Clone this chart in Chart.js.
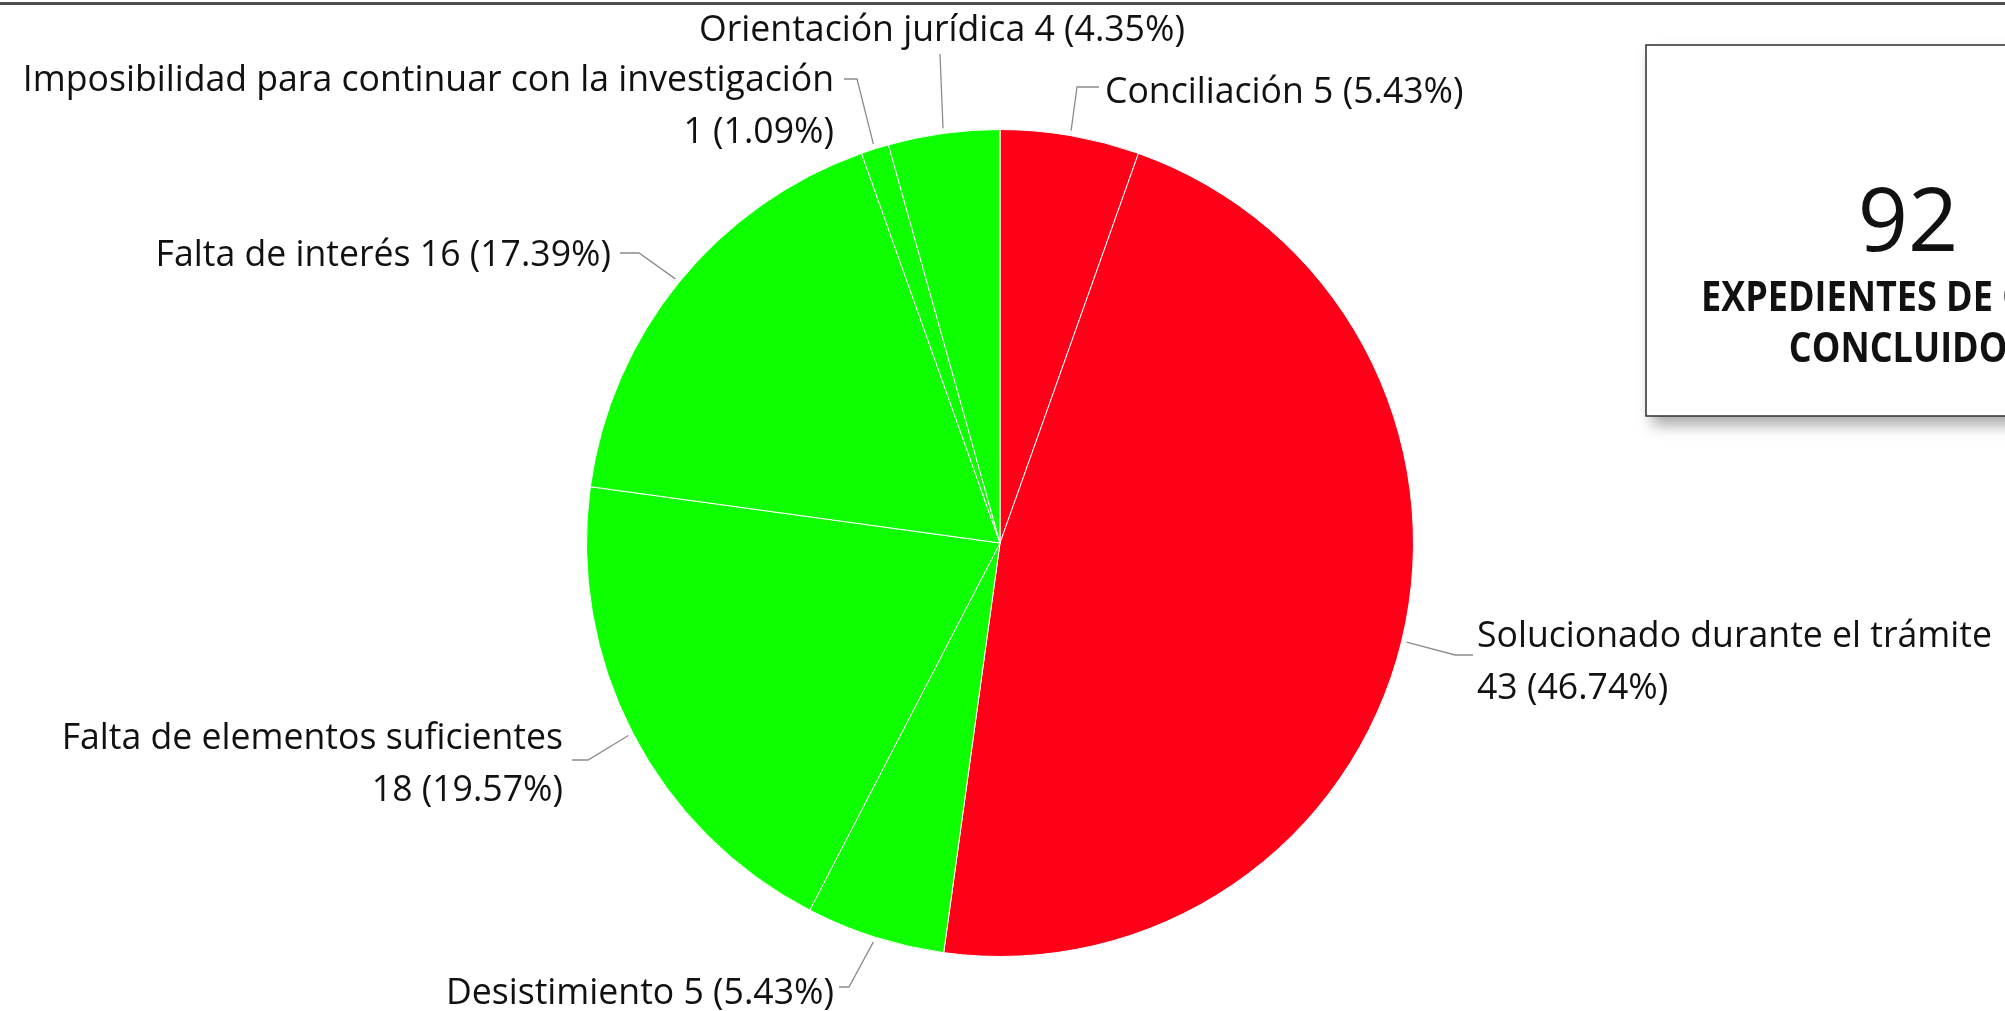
<!DOCTYPE html>
<html>
<head>
<meta charset="utf-8">
<script src="https://cdn.jsdelivr.net/npm/chart.js@4.4.0/dist/chart.umd.min.js"></script>
<style>
  html, body { margin: 0; padding: 0; background: #fff; overflow: hidden; }
  #wrap { position: relative; width: 2005px; height: 1011px; }
</style>
</head>
<body>
<div id="wrap"><canvas id="myChart" width="2005" height="1011"></canvas></div>
<script>
const categories = [
  'Conciliación',
  'Solucionado durante el trámite',
  'Desistimiento',
  'Falta de elementos suficientes',
  'Falta de interés',
  'Imposibilidad para continuar con la investigación',
  'Orientación jurídica'
];
const values = [5, 43, 5, 18, 16, 1, 4];
const RED = 'rgb(255, 0, 24)';
const GREEN = 'rgb(14, 255, 0)';
const colors = [RED, RED, GREEN, GREEN, GREEN, GREEN, GREEN];
const boxTitle = ['EXPEDIENTES DE QUEJA', 'CONCLUIDOS'];

const total = values.reduce((a, b) => a + b, 0);

// where each label sits: leader elbow, leader end, text anchor, alignment, wrapped or not
const labelLayout = [
  { elbow: [1077, 87],  end: [1099, 87],  tx: 1105, ty: 90,  align: 'left',   wrap: false },
  { elbow: [1455, 655], end: [1473, 655], tx: 1477, ty: 660, align: 'left',   wrap: true },
  { elbow: [849, 987],  end: [839, 987],  tx: 834,  ty: 991, align: 'right',  wrap: false },
  { elbow: [588, 760],  end: [572, 760],  tx: 563,  ty: 762, align: 'right',  wrap: true },
  { elbow: [639, 253],  end: [620, 253],  tx: 611,  ty: 253, align: 'right',  wrap: false },
  { elbow: [857, 79],   end: [844, 79],   tx: 834,  ty: 104, align: 'right',  wrap: true },
  { elbow: [940, 54],   end: [940, 54],   tx: 942,  ty: 28,  align: 'center', wrap: false }
];

const FONT = '"Open Sans", "DejaVu Sans", sans-serif';

function fitSize(ctx, text, weight, targetWidth) {
  ctx.font = weight + ' 100px ' + FONT;
  return 100 * targetWidth / ctx.measureText(text).width;
}

const decorPlugin = {
  id: 'decor',
  beforeDraw(chart) {
    const c = chart.ctx;
    c.save();
    // top rule
    c.fillStyle = '#4d4d4d';
    c.fillRect(0, 2, 2005, 3);
    c.restore();
  },
  afterDraw(chart) {
    const c = chart.ctx;
    const arcs = chart.getDatasetMeta(0).data;
    const fs = fitSize(c, 'Solucionado durante el trámite', 'normal', 515);
    const lineH = fs * 1.47;

    // labels with leader lines
    arcs.forEach((arc, i) => {
      const L = labelLayout[i];
      const mid = (arc.startAngle + arc.endAngle) / 2;
      const r = arc.outerRadius + 5;
      const sx = arc.x + Math.cos(mid) * r;
      const sy = arc.y + Math.sin(mid) * r;
      c.save();
      c.strokeStyle = '#8c8c8c';
      c.lineWidth = 1.3;
      c.beginPath();
      c.moveTo(sx, sy);
      c.lineTo(L.elbow[0], L.elbow[1]);
      c.lineTo(L.end[0], L.end[1]);
      c.stroke();

      const pct = (values[i] / total * 100).toFixed(2) + '%';
      const num = values[i] + ' (' + pct + ')';
      const lines = L.wrap ? [categories[i], num] : [categories[i] + ' ' + num];
      c.fillStyle = '#111';
      c.font = 'normal ' + fs + 'px ' + FONT;
      c.textAlign = L.align;
      c.textBaseline = 'alphabetic';
      const y0 = L.ty - (lines.length - 1) * lineH / 2;
      lines.forEach((t, k) => {
        c.fillText(t, L.tx, y0 + k * lineH + fs * 0.36);
      });
      c.restore();
    });

    // total box
    c.save();
    c.shadowColor = 'rgba(0,0,0,0.35)';
    c.shadowBlur = 14;
    c.shadowOffsetX = 6;
    c.shadowOffsetY = 9;
    c.fillStyle = '#fff';
    c.fillRect(1646, 45, 420, 371);
    c.restore();
    c.save();
    c.strokeStyle = '#3a3a3a';
    c.lineWidth = 1.6;
    c.strokeRect(1646, 45, 420, 371);

    c.fillStyle = '#111';
    c.textAlign = 'center';
    c.textBaseline = 'alphabetic';
    c.font = 'normal 88px ' + FONT;
    c.fillText(String(total), 1908, 251);
    // condensed bold title, like the narrow original face
    const bs = 41;
    c.font = 'bold ' + bs + 'px ' + FONT;
    const sx = 414 / c.measureText(boxTitle[0]).width;
    c.translate(1908, 0);
    c.scale(sx, 1);
    c.fillText(boxTitle[0], 0, 311);
    c.fillText(boxTitle[1], 0, 362);
    c.restore();
  }
};

const ctx = document.getElementById('myChart');

new Chart(ctx, {
  type: 'pie',
  data: {
    labels: categories,
    datasets: [{
      data: values,
      backgroundColor: colors,
      borderColor: '#ffffff',
      borderWidth: 1,
      hoverOffset: 0
    }]
  },
  options: {
    responsive: false,
    animation: false,
    events: [],
    layout: { padding: { top: 129, bottom: 54, left: 586, right: 591 } },
    plugins: {
      legend: { display: false },
      tooltip: { enabled: false }
    }
  },
  plugins: [decorPlugin]
});
</script>
</body>
</html>
